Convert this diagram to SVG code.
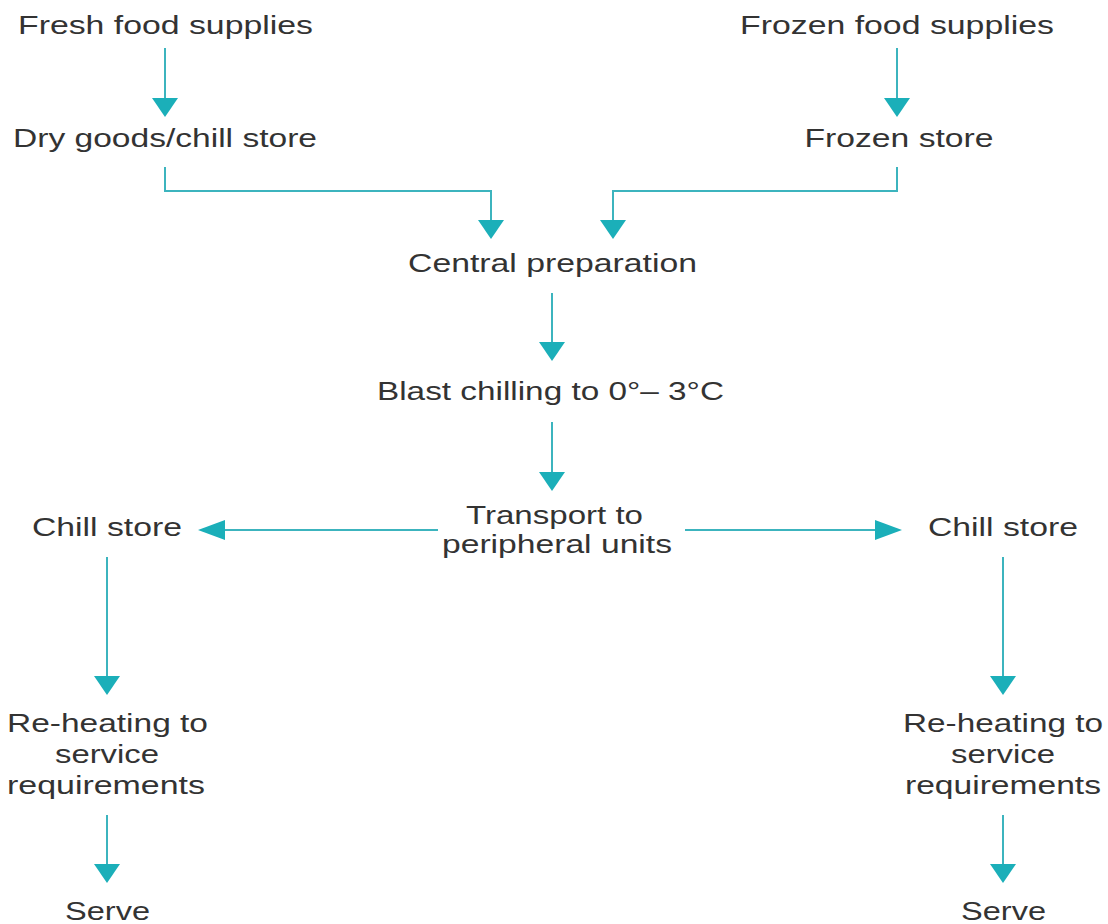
<svg xmlns="http://www.w3.org/2000/svg" width="1108" height="924" viewBox="0 0 1108 924">
<style>
  text { font-family: "Liberation Sans", Arial, sans-serif; font-size: 26.5px; fill: #333333; text-anchor: middle; }
  .conn { fill: none; stroke: #3cb4be; stroke-width: 2; }
</style>
<defs>
  <marker id="ahv" markerUnits="userSpaceOnUse" viewBox="0 0 19 26" refX="2" refY="13" markerWidth="19" markerHeight="26" orient="auto">
    <path d="M0,0 L19,13 L0,26 Z" fill="#1bafb9"/>
  </marker>
  <marker id="ahh" markerUnits="userSpaceOnUse" viewBox="0 0 27 20" refX="2" refY="10" markerWidth="27" markerHeight="20" orient="auto">
    <path d="M0,0 L27,10 L0,20 Z" fill="#1bafb9"/>
  </marker>
</defs>
<rect width="1108" height="924" fill="#ffffff"/>
<g id="connectors">
  <path class="conn" d="M165,48 V100" marker-end="url(#ahv)"/>
  <path class="conn" d="M897,48 V100" marker-end="url(#ahv)"/>
  <path class="conn" d="M165,167 V191 H491 V222" marker-end="url(#ahv)"/>
  <path class="conn" d="M897,167 V191 H613 V222" marker-end="url(#ahv)"/>
  <path class="conn" d="M552,293 V344" marker-end="url(#ahv)"/>
  <path class="conn" d="M552,422 V474" marker-end="url(#ahv)"/>
  <path class="conn" d="M438,530 H223" marker-end="url(#ahh)"/>
  <path class="conn" d="M685,530 H877" marker-end="url(#ahh)"/>
  <path class="conn" d="M107,557 V678" marker-end="url(#ahv)"/>
  <path class="conn" d="M1003,557 V678" marker-end="url(#ahv)"/>
  <path class="conn" d="M107,815 V866" marker-end="url(#ahv)"/>
  <path class="conn" d="M1003,815 V866" marker-end="url(#ahv)"/>
</g>
<g id="fresh"><text x="165.5" y="34" textLength="295" lengthAdjust="spacingAndGlyphs">Fresh food supplies</text></g>
<g id="frozen"><text x="897" y="34" textLength="314" lengthAdjust="spacingAndGlyphs">Frozen food supplies</text></g>
<g id="drygoods"><text x="165" y="147" textLength="304" lengthAdjust="spacingAndGlyphs">Dry goods/chill store</text></g>
<g id="frozenstore"><text x="899" y="147" textLength="189" lengthAdjust="spacingAndGlyphs">Frozen store</text></g>
<g id="central"><text x="552.5" y="272" textLength="289" lengthAdjust="spacingAndGlyphs">Central preparation</text></g>
<g id="blast"><text x="550.5" y="400" textLength="347" lengthAdjust="spacingAndGlyphs">Blast chilling to 0°– 3°C</text></g>
<g id="transport">
  <text x="554.5" y="524" textLength="177" lengthAdjust="spacingAndGlyphs">Transport to</text>
  <text x="557" y="553" textLength="230" lengthAdjust="spacingAndGlyphs">peripheral units</text>
</g>
<g id="chill-left"><text x="107" y="536" textLength="150" lengthAdjust="spacingAndGlyphs">Chill store</text></g>
<g id="chill-right"><text x="1003" y="536" textLength="150" lengthAdjust="spacingAndGlyphs">Chill store</text></g>
<g id="reheat-left">
  <text x="107.5" y="732" textLength="201" lengthAdjust="spacingAndGlyphs">Re-heating to</text>
  <text x="107" y="763" textLength="104" lengthAdjust="spacingAndGlyphs">service</text>
  <text x="106" y="794" textLength="198" lengthAdjust="spacingAndGlyphs">requirements</text>
</g>
<g id="reheat-right">
  <text x="1003" y="732" textLength="200" lengthAdjust="spacingAndGlyphs">Re-heating to</text>
  <text x="1003" y="763" textLength="104" lengthAdjust="spacingAndGlyphs">service</text>
  <text x="1003" y="794" textLength="196" lengthAdjust="spacingAndGlyphs">requirements</text>
</g>
<g id="serve-left"><text x="107.5" y="920" textLength="85" lengthAdjust="spacingAndGlyphs">Serve</text></g>
<g id="serve-right"><text x="1003.5" y="920" textLength="85" lengthAdjust="spacingAndGlyphs">Serve</text></g>
</svg>
